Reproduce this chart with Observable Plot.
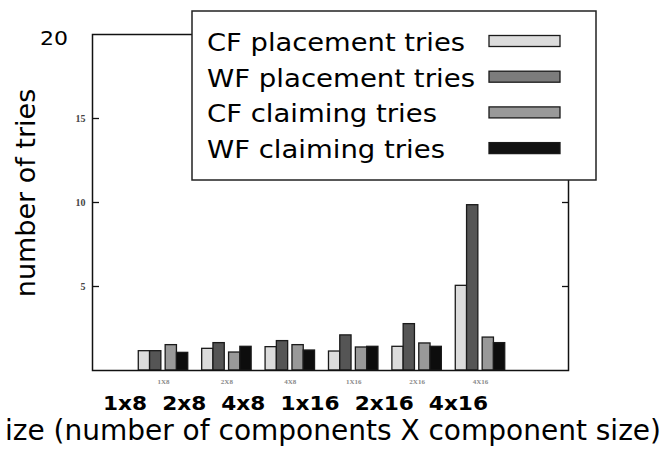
<!DOCTYPE html>
<html>
<head>
<meta charset="utf-8">
<script src="https://cdn.jsdelivr.net/npm/d3@7"></script>
<script src="https://cdn.jsdelivr.net/npm/@observablehq/plot@0.6"></script>
<style>
  html, body { margin: 0; padding: 0; background: #fff; }
  #chart { width: 667px; height: 452px; overflow: hidden; }
</style>
</head>
<body>
<div id="chart"></div>
<script>
// ---- data ----
const groups = ["1x8", "2x8", "4x8", "1x16", "2x16", "4x16"];
const seriesNames = ["CF placement tries", "WF placement tries", "CF claiming tries", "WF claiming tries"];
const cfPlacement = [1.15, 1.29, 1.39, 1.13, 1.41, 5.04];
const wfPlacement = [1.15, 1.63, 1.75, 2.09, 2.76, 9.84];
const cfClaiming  = [1.51, 1.07, 1.51, 1.37, 1.61, 1.96];
const wfClaiming  = [1.05, 1.41, 1.19, 1.41, 1.41, 1.63];
const yTicks = [5, 10, 15];
const topTickLabel = "20";
const yTitle = "number of tries";
const xTitle = "ize (number of components X component size)";

// ---- styling ----
const barColors = ["#dcdcdc", "#555555", "#999999", "#0d0d0d"];
const legendColors = ["#dcdcdc", "#7c7c7c", "#999999", "#111111"];
const legendTextWidths = [258, 268, 230, 238];
const seriesValues = [cfPlacement, wfPlacement, cfClaiming, wfClaiming];

// bar layout inside a group (group step = 1 unit)
const barW = 0.178, pairGap = 0.068;
const offsets = [0, barW, 2 * barW + pairGap, 3 * barW + pairGap];

const rows = [];
groups.forEach((g, gi) => {
  seriesNames.forEach((s, si) => {
    rows.push({group: g, gi, series: s, si, value: seriesValues[si][gi]});
  });
});

const chart = Plot.plot({
  width: 667,
  height: 452,
  marginLeft: 92,
  marginRight: 99,
  marginTop: 34,
  marginBottom: 82,
  x: {domain: [-0.73, 6.778], axis: null},
  y: {domain: [0, 20], axis: null},
  marks: [
    Plot.rectY(rows, {
      x1: d => d.gi + offsets[d.si],
      x2: d => d.gi + offsets[d.si] + barW,
      y1: 0,
      y2: "value",
      fill: d => barColors[d.si],
      stroke: "#1a1a1a",
      strokeWidth: 1.3
    }),
    Plot.axisY({
      ticks: yTicks, tickSize: -7, tickPadding: 14, label: null,
      fontSize: 10, fontFamily: "Liberation Serif, serif", fontWeight: "bold", fill: "#444",
      stroke: "#111", strokeWidth: 1.3
    }),
    Plot.axisY({
      anchor: "right", ticks: yTicks, tickSize: -7, tickFormat: () => "", label: null,
      stroke: "#111", strokeWidth: 1.3
    }),
    Plot.text(groups, {
      x: (d, i) => i + (offsets[3] + barW) / 2,
      y: 0, dy: 11,
      text: d => d.toUpperCase(),
      fontSize: 7, fontFamily: "Liberation Serif, serif", fontWeight: "bold", fill: "#888"
    }),
    Plot.frame({stroke: "#111", strokeWidth: 1.5})
  ]
});

document.getElementById("chart").appendChild(chart);

const svg = d3.select(chart);
const sans = "DejaVu Sans, Verdana, sans-serif";

// big "20" label
svg.append("text")
  .attr("x", 40).attr("y", 45)
  .attr("text-anchor", "start")
  .attr("textLength", 28).attr("lengthAdjust", "spacingAndGlyphs")
  .attr("font-family", sans).attr("font-size", 20)
  .attr("fill", "#000")
  .text(topTickLabel);

// y title
svg.append("text")
  .attr("transform", "translate(35,193) rotate(-90)")
  .attr("text-anchor", "middle")
  .attr("font-family", sans).attr("font-size", 27)
  .attr("fill", "#000")
  .text(yTitle);

// big bold group labels
svg.append("text")
  .attr("x", 103).attr("y", 410)
  .attr("text-anchor", "start")
  .attr("textLength", 385).attr("lengthAdjust", "spacingAndGlyphs")
  .attr("font-family", sans).attr("font-size", 20).attr("font-weight", "bold")
  .attr("fill", "#000")
  .attr("xml:space", "preserve")
  .style("white-space", "pre")
  .text(groups.join("  "));

// x title (clipped on the left in the reference)
svg.append("text")
  .attr("x", 661).attr("y", 440)
  .attr("text-anchor", "end")
  .attr("font-family", sans).attr("font-size", 28)
  .attr("fill", "#000")
  .text(xTitle);

// legend box
const lg = svg.append("g");
lg.append("rect")
  .attr("x", 192).attr("y", 11).attr("width", 404).attr("height", 169)
  .attr("fill", "#fff").attr("stroke", "#222").attr("stroke-width", 1.5);
seriesNames.forEach((s, i) => {
  const cy = 41 + i * 35.7;
  lg.append("text")
    .attr("x", 207).attr("y", cy + 10)
    .attr("text-anchor", "start")
    .attr("textLength", legendTextWidths[i]).attr("lengthAdjust", "spacingAndGlyphs")
    .attr("font-family", sans).attr("font-size", 25)
    .attr("fill", "#000")
    .text(s);
  lg.append("rect")
    .attr("x", 489).attr("y", cy - 5.5).attr("width", 71).attr("height", 11)
    .attr("fill", legendColors[i]).attr("stroke", "#1a1a1a").attr("stroke-width", 1.3);
});
</script>
</body>
</html>
